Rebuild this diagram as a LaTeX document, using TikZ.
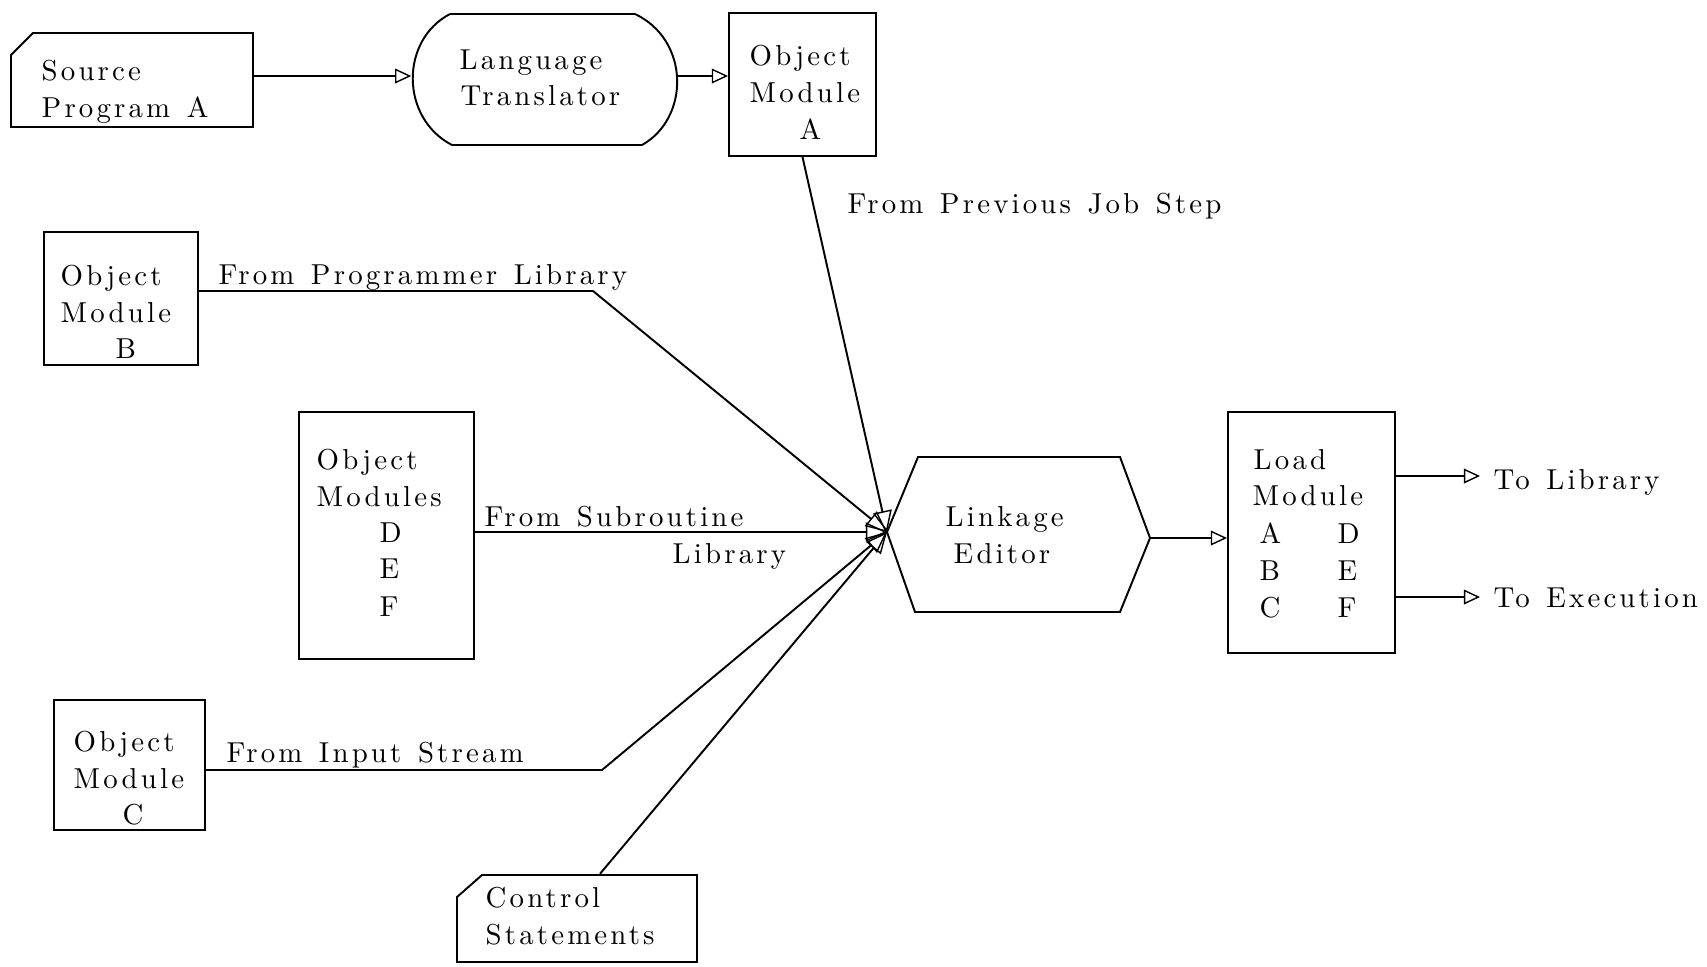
\documentclass[tikz,border=0pt]{standalone}
\usepackage{fontspec}
\usetikzlibrary{arrows.meta}
\newfontfamily\lblfam{lmroman10-regular.otf}[LetterSpace=11,WordSpace=1.3]
\newcommand{\lblfont}{\lblfam\fontsize{8.2}{10}\selectfont}
\begin{document}
\begin{tikzpicture}[x=0.01cm,y=-0.01cm,
  ln/.style={line width=0.55pt},
  flow/.style={ln,-{Triangle[open,length=4.6pt,width=4.2pt,line width=0.4pt]}},
  hubflow/.style={ln,-{Triangle[open,length=6pt,width=5.4pt,line width=0.4pt]}},
  box/.style={draw,ln,inner sep=0pt},
  ghost/.style={inner sep=0pt},
  txt/.style={anchor=mid west,inner sep=0pt,font=\lblfont}]
\fill[white] (0,0) rectangle (1707,966);
\useasboundingbox (0,0) rectangle (1707,966);

% Source program (card with clipped corner)
\node[ghost,minimum width=2.42cm,minimum height=0.94cm] (src) at (132,76) {};
\draw[ln] (11,55) -- (33,33) -- (253,33) -- (253,127) -- (11,127) -- cycle;
\node[txt] (srcA) at (41,73) {Source};
\node[txt] (srcB) at (41,110) {Program A};

% Language translator (rounded-side terminal)
\node[ghost,minimum width=2.64cm,minimum height=1.32cm] (lt) at (544,76) {};
\draw[ln] (450,14) -- (635,14) .. controls (690,40) and (690,118) .. (642,145)
  -- (452,145) .. controls (400,118) and (400,40) .. (450,14);
\node[txt] (ltA) at (459,62) {Language};
\node[txt] (ltB) at (460,98) {Translator};

% Object module A
\node[box,minimum width=1.47cm,minimum height=1.43cm] (oma) at (802.5,84.5) {};
\node[txt] (omaA) at (749,58) {Object};
\node[txt] (omaB) at (749,95) {Module};
\node[txt] (omaC) at (799,132) {A};

% Object module B
\node[box,minimum width=1.54cm,minimum height=1.33cm] (omb) at (121,298.5) {};
\node[txt] (ombA) at (60,278) {Object};
\node[txt] (ombB) at (60,315) {Module};
\node[txt] (ombC) at (115,351) {B};

% Object modules D, E, F
\node[box,minimum width=1.75cm,minimum height=2.47cm] (omd) at (386.5,535.5) {};
\node[txt] (omdA) at (316,462) {Object};
\node[txt] (omdB) at (316,499) {Modules};
\node[txt] (omdC) at (379,535) {D};
\node[txt] (omdD) at (379,571) {E};
\node[txt] (omdE) at (379,609) {F};

% Object module C
\node[box,minimum width=1.51cm,minimum height=1.30cm] (omc) at (129.5,765) {};
\node[txt] (omcA) at (73,744) {Object};
\node[txt] (omcB) at (73,781) {Module};
\node[txt] (omcC) at (122,817) {C};

% Control statements (card with clipped corner)
\node[ghost,minimum width=2.40cm,minimum height=0.87cm] (cs) at (577,918) {};
\draw[ln] (457,897) -- (482,875) -- (697,875) -- (697,962) -- (457,962) -- cycle;
\node[txt] (csA) at (485,900) {Control};
\node[txt] (csB) at (485,937) {Statements};

% Linkage editor (hexagon)
\coordinate (hub) at (887,532);
\coordinate (leout) at (1150,538);
\node[ghost,minimum width=2.6cm,minimum height=1.55cm] (le) at (1018,535) {};
\draw[ln] (hub) -- (918,457) -- (1120,457) -- (leout) -- (1120,612) -- (915,612) -- cycle;
\node[txt] (leA) at (945,519) {Linkage};
\node[txt] (leB) at (953,556) {Editor};

% Load module
\node[box,minimum width=1.67cm,minimum height=2.41cm] (lm) at (1311.5,532.5) {};
\node[txt] (lmA) at (1253,462) {Load};
\node[txt] (lmB) at (1252,498) {Module};
\node[txt] (lmC) at (1259,536) {A};
\node[txt] (lmD) at (1337,536) {D};
\node[txt] (lmE) at (1259,573) {B};
\node[txt] (lmF) at (1337,573) {E};
\node[txt] (lmG) at (1259,610) {C};
\node[txt] (lmH) at (1337,610) {F};

% Flow of the translation step
\draw[flow] (src.east) -- (lt.west);
\draw[flow] (lt.east) -- (lt.east -| oma.west);

% Inputs to the linkage editor
\node[txt] (prevlbl) at (847,206) {From Previous Job Step};
\draw[hubflow] (oma.south) -- (hub);

\coordinate (pbend) at (593,291);
\node[txt] (proglbl) at (218,277) {From Programmer Library};
\draw[hubflow] (omb.east |- pbend) -- (pbend) -- (hub);

\node[txt] (sublblA) at (484,519) {From Subroutine};
\node[txt] (sublblB) at (672,556) {Library};
\draw[hubflow] (omd.east |- hub) -- (hub);

\coordinate (ibend) at (602,770);
\node[txt] (inlbl) at (226,755) {From Input Stream};
\draw[hubflow] (omc.east |- ibend) -- (ibend) -- (hub);

\draw[hubflow] ([xshift=0.23cm]cs.north) -- (hub);

% Output of the linkage editor
\draw[flow] (leout) -- (leout -| lm.west);

\coordinate (tolib) at (1480,476);
\coordinate (toexe) at (1480,597);
\draw[flow] (lm.east |- tolib) -- (tolib);
\draw[flow] (lm.east |- toexe) -- (toexe);
\node[txt] (liblbl) at (1493,482) {To Library};
\node[txt] (exelbl) at (1493,600) {To Execution};
\end{tikzpicture}
\end{document}
